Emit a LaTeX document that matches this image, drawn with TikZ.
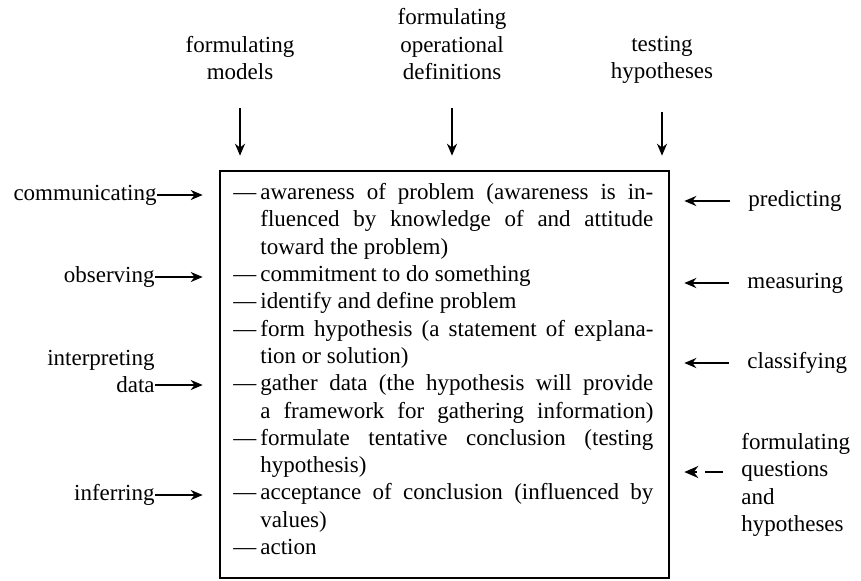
\documentclass[tikz,border=0pt]{standalone}
\usepackage{fontspec}
\setmainfont{Liberation Serif}
\usetikzlibrary{arrows.meta, positioning}

\newlength{\dashw}\setlength{\dashw}{13.5pt}
\newlength{\linew}\setlength{\linew}{196.5pt}
\newcommand{\stepj}[1]{\makebox[\dashw][l]{---}\makebox[\linew][s]{#1}}
\newcommand{\stepl}[1]{\makebox[\dashw][l]{---}#1}
\newcommand{\contj}[1]{\hspace*{\dashw}\makebox[\linew][s]{#1}}
\newcommand{\contl}[1]{\hspace*{\dashw}#1}

\begin{document}
\begin{tikzpicture}[
    x=0.5pt, y=-0.5pt,
    lbl/.style={inner sep=0pt, font=\fontsize{11.5}{13.65}\selectfont},
    procbox/.style={rectangle, draw, line width=1.3pt, minimum width=224.5pt, minimum height=203.5pt},
    arr/.style={-{Stealth[length=6pt, width=5pt]}, line width=1pt},
    leftarr/.style={arr, shorten >=8pt},
    rightarr/.style={arr, shorten <=9pt, shorten >=7pt},
    toparr/.style={arr, shorten <=14pt, shorten >=7pt}
]
\useasboundingbox (0,0) rectangle (861,580);

% Process box
\node[procbox] (box) at (444.5,374.5) {};
\node[lbl, anchor=north west, align=left] (steps) at (233,183) {%
\stepj{awareness of problem (awareness is in-}\\
\contj{fluenced by knowledge of and attitude}\\
\contl{toward the problem)}\\
\stepl{commitment to do something}\\
\stepl{identify and define problem}\\
\stepj{form hypothesis (a statement of explana-}\\
\contl{tion or solution)}\\
\stepj{gather data (the hypothesis will provide}\\
\contj{a framework for gathering information)}\\
\stepj{formulate tentative conclusion (testing}\\
\contl{hypothesis)}\\
\stepj{acceptance of conclusion (influenced by}\\
\contl{values)}\\
\stepl{action}};

% Top processes
\node[lbl, anchor=south, align=center] (models) at (240,80) {formulating\\models};
\node[lbl, anchor=south, align=center] (opdef) at (452,80) {formulating\\operational\\definitions};
\node[lbl, anchor=south, align=center] (testhyp) at (662,84) {testing\\hypotheses};

% Left processes
\node[lbl, anchor=east] (comm) at (157,195) {communicating};
\node[lbl, anchor=east] (obs) at (155,277) {observing};
\node[lbl, anchor=east, align=right] (interp) at (155,371.5) {interpreting\\data};
\node[lbl, anchor=east] (infer) at (155,495) {inferring};

% Right processes
\node[lbl, anchor=west] (pred) at (748,201) {predicting};
\node[lbl, anchor=west] (meas) at (747,283) {measuring};
\node[lbl, anchor=west] (classif) at (747,363) {classifying};
\node[lbl, anchor=west, align=left] (quest) at (741,485) {formulating\\questions\\and\\hypotheses};

% Connections
\draw[toparr] (models.south) -- (models.south |- box.north);
\draw[toparr] (opdef.south) -- (opdef.south |- box.north);
\draw[toparr] (testhyp.south) -- (testhyp.south |- box.north);

\draw[leftarr] (comm.east) -- (comm.east -| box.west);
\draw[leftarr] (obs.east) -- (obs.east -| box.west);
\draw[leftarr] ([yshift=-6.75pt]interp.east) -- ([yshift=-6.75pt]interp.east -| box.west);
\draw[leftarr] (infer.east) -- (infer.east -| box.west);

\draw[rightarr] (pred.west) -- (pred.west -| box.east);
\draw[rightarr] (meas.west) -- (meas.west -| box.east);
\draw[rightarr] (classif.west) -- (classif.west -| box.east);
\draw[rightarr, -{Stealth[length=7pt, width=6pt]}, dash pattern=on 9pt off 4pt on 40pt] ([yshift=6.5pt]quest.west) -- ([yshift=6.5pt]quest.west -| box.east);

\end{tikzpicture}
\end{document}
